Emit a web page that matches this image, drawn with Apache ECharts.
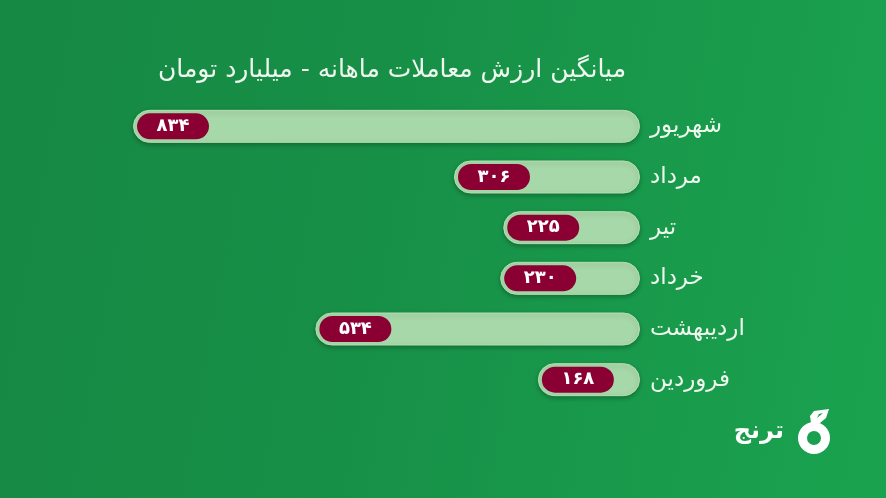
<!DOCTYPE html>
<html>
<head>
<meta charset="utf-8">
<script src="https://cdn.jsdelivr.net/npm/echarts@6/dist/echarts.min.js"></script>
<style>
html,body{margin:0;padding:0;}
#c{width:886px;height:498px;background:linear-gradient(100deg,#168944 0%,#178f47 40%,#1aa34f 100%);}
</style>
</head>
<body>
<div id="c"></div>
<script>
const titleText = 'میانگین ارزش معاملات ماهانه - میلیارد تومان';
const months = ['شهریور', 'مرداد', 'تیر', 'خرداد', 'اردیبهشت', 'فروردین'];
const values = [834, 306, 225, 230, 534, 168];
const brandText = 'ترنج';

const faDigits = '۰۱۲۳۴۵۶۷۸۹';
function toFa(n) { return String(n).replace(/[0-9]/g, d => faDigits[+d]); }

const FONT = '"DejaVu Sans", "Noto Sans", sans-serif';
const chart = echarts.init(document.getElementById('c'));
chart.setOption({
  backgroundColor: 'transparent',
  animation: false,
  grid: { left: 133, right: 246, top: 101, bottom: 93, containLabel: false },
  xAxis: {
    type: 'value', inverse: true, min: 0, max: Math.max(...values),
    show: false
  },
  yAxis: {
    type: 'category', data: months, inverse: true, position: 'right',
    axisLine: { show: false }, axisTick: { show: false }, splitLine: { show: false },
    axisLabel: { color: '#eef8ee', fontSize: 23, fontFamily: FONT, align: 'left', margin: 10 }
  },
  series: [{
    type: 'bar',
    data: values,
    barWidth: 33,
    itemStyle: {
      color: '#a7d8a9',
      borderRadius: 16.5,
      borderColor: '#b4dfb4',
      borderWidth: 1,
      shadowBlur: 5,
      shadowOffsetY: 2,
      shadowColor: 'rgba(0,0,0,0.25)'
    },
    label: {
      show: true,
      position: 'insideLeft',
      distance: 4,
      offset: [36, 0],
      formatter: p => toFa(p.value),
      color: '#ffffff',
      fontSize: 18,
      fontWeight: 'bold',
      fontFamily: FONT,
      backgroundColor: '#8b0033',
      borderRadius: 13,
      width: 72,
      height: 26,
      lineHeight: 26,
      align: 'center',
      padding: 0
    }
  }],
  graphic: [
    { type: 'text', x: 392, y: 70, style: { text: titleText, fill: '#eef8ee', font: '25px ' + FONT, textAlign: 'center', textVerticalAlign: 'middle' } },
    { type: 'text', x: 784, y: 432, style: { text: brandText, fill: '#ffffff', font: 'bold 24px ' + FONT, textAlign: 'right', textVerticalAlign: 'middle' } },
    { type: 'ring', shape: { cx: 814, cy: 438, r: 16, r0: 7 }, style: { fill: '#ffffff' } },
    { type: 'polygon', shape: { points: [[811, 423], [810, 416], [814, 411], [829, 409], [826, 418], [820, 423]] }, style: { fill: '#ffffff' } },
    { type: 'polygon', shape: { points: [[817, 418], [819, 414], [823, 413]] }, style: { fill: '#1a9a4b' } }
  ]
});
</script>
</body>
</html>
